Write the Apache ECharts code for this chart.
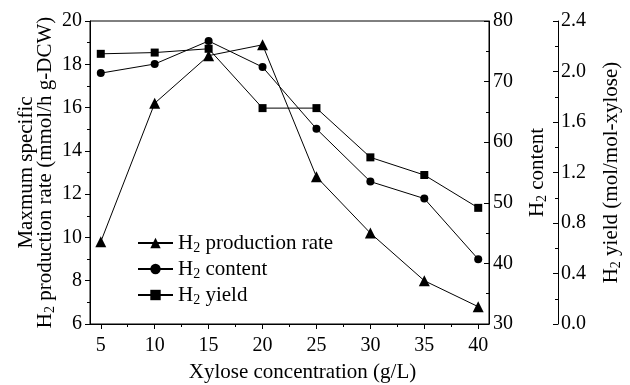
<!DOCTYPE html>
<html>
<head>
<meta charset="utf-8">
<script src="https://cdn.jsdelivr.net/npm/echarts@6/dist/echarts.min.js"></script>
<style>html,body{margin:0;padding:0;background:#fff}#c{width:630px;height:385px}</style>
</head>
<body>
<div id="c"></div>
<script>
const xylose = [5, 10, 15, 20, 25, 30, 35, 40];
const productionRate = [9.8, 16.2, 18.4, 18.9, 12.8, 10.2, 8.0, 6.8];
const h2Content = [71.4, 72.9, 76.7, 72.4, 62.2, 53.5, 50.7, 40.7];
const h2Yield = [2.14, 2.15, 2.18, 1.71, 1.71, 1.32, 1.18, 0.92];
const xMinorTicks = [7.5, 12.5, 17.5, 22.5, 27.5, 32.5, 37.5];
const seriesNames = ['H2 production rate', 'H2 content', 'H2 yield'];

const FONT = "'Liberation Serif','Times New Roman',serif";
const rich = {
  a: {fontSize: 21, fontFamily: FONT, color: '#000', lineHeight: 21},
  s: {fontSize: 14, fontFamily: FONT, color: '#000', lineHeight: 21, padding: [10, 0, 0, 0]}
};
function sub(t) { return t.replace(/^H2(.*)$/, '{a|H}{s|2}{a|$1}'); }

const pair = arr => xylose.map((x, i) => [x, arr[i]]);

const chart = echarts.init(document.getElementById('c'), null, {renderer: 'canvas'});
chart.setOption({
  animation: false,
  backgroundColor: '#fff',
  textStyle: {fontFamily: FONT, color: '#000'},
  grid: {left: 90, right: 141, top: 21, bottom: 61, show: true, borderColor: '#000', borderWidth: 1,
         containLabel: false, outerBoundsMode: 'none'},
  legend: {
    left: 137, top: 231, orient: 'vertical', padding: 0, itemGap: 2,
    itemWidth: 35, itemHeight: 13,
    data: seriesNames,
    formatter: n => sub(n),
    textStyle: {fontFamily: FONT, fontSize: 21, color: '#000', rich: rich}
  },
  xAxis: [{
    type: 'value', min: 4, max: 41,
    name: 'Xylose concentration (g/L)', nameLocation: 'middle', nameGap: 38,
    nameTextStyle: {fontSize: 21, fontFamily: FONT, color: '#000', padding: [0, 0, 0, 26]},
    axisLine: {show: true, onZero: false, lineStyle: {color: '#000', width: 1}},
    axisTick: {show: true, inside: false, length: 5, customValues: xylose, lineStyle: {color: '#000'}},
    axisLabel: {customValues: xylose, fontSize: 20, fontFamily: FONT, color: '#000', margin: 12},
    splitLine: {show: false}
  }, {
    type: 'value', min: 4, max: 41, position: 'bottom',
    axisLine: {show: false},
    axisTick: {show: true, inside: false, length: 3, customValues: xMinorTicks, lineStyle: {color: '#000'}},
    axisLabel: {show: false},
    splitLine: {show: false}
  }],
  yAxis: [{
    type: 'value', min: 6, max: 20, interval: 2, position: 'left',
    name: 'Maxmum specific\n{a|H}{s|2}{a| production rate (mmol/h g-DCW)}',
    nameLocation: 'middle', nameGap: 35, nameMoveOverlap: false,
    nameTextStyle: {fontSize: 21, fontFamily: FONT, color: '#000', lineHeight: 19, rich: {
      a: {fontSize: 21, fontFamily: FONT, color: '#000', lineHeight: 19},
      s: {fontSize: 14, fontFamily: FONT, color: '#000', lineHeight: 19, padding: [10, 0, 0, 0]}
    }},
    axisLine: {show: true, lineStyle: {color: '#000', width: 1}},
    axisTick: {show: true, inside: false, length: 5, lineStyle: {color: '#000'}},
    minorTick: {show: true, splitNumber: 2, length: 3, lineStyle: {color: '#000'}},
    axisLabel: {fontSize: 20, fontFamily: FONT, color: '#000', margin: 8},
    splitLine: {show: false}
  }, {
    type: 'value', min: 30, max: 80, interval: 10, position: 'right',
    name: sub('H2 content'), nameLocation: 'middle', nameGap: 38, nameMoveOverlap: false,
    nameTextStyle: {fontSize: 21, fontFamily: FONT, color: '#000', rich: rich},
    axisLine: {show: true, lineStyle: {color: '#000', width: 1}},
    axisTick: {show: true, inside: true, length: 5, lineStyle: {color: '#000'}},
    minorTick: {show: true, splitNumber: 2, length: 3, lineStyle: {color: '#000'}},
    axisLabel: {fontSize: 20, fontFamily: FONT, color: '#000', margin: 4},
    splitLine: {show: false}
  }, {
    type: 'value', min: 0, max: 2.4, interval: 0.4, position: 'right', offset: 69,
    name: sub('H2 yield (mol/mol-xylose)'), nameLocation: 'middle', nameGap: 43, nameMoveOverlap: false,
    nameTextStyle: {fontSize: 21, fontFamily: FONT, color: '#000', rich: rich},
    axisLine: {show: true, lineStyle: {color: '#000', width: 1}},
    axisTick: {show: true, inside: true, length: 5, lineStyle: {color: '#000'}},
    minorTick: {show: true, splitNumber: 2, length: 3, lineStyle: {color: '#000'}},
    axisLabel: {fontSize: 20, fontFamily: FONT, color: '#000', margin: 3, formatter: v => v.toFixed(1)},
    splitLine: {show: false}
  }],
  series: [{
    name: seriesNames[0], type: 'line', xAxisIndex: 0, yAxisIndex: 0,
    data: pair(productionRate), symbol: 'triangle', symbolSize: 11,
    itemStyle: {color: '#000'}, lineStyle: {color: '#000', width: 1}
  }, {
    name: seriesNames[1], type: 'line', xAxisIndex: 0, yAxisIndex: 1,
    data: pair(h2Content), symbol: 'circle', symbolSize: 8,
    itemStyle: {color: '#000'}, lineStyle: {color: '#000', width: 1}
  }, {
    name: seriesNames[2], type: 'line', xAxisIndex: 0, yAxisIndex: 2,
    data: pair(h2Yield), symbol: 'rect', symbolSize: 8,
    itemStyle: {color: '#000'}, lineStyle: {color: '#000', width: 1}
  }]
});
</script>
</body>
</html>
